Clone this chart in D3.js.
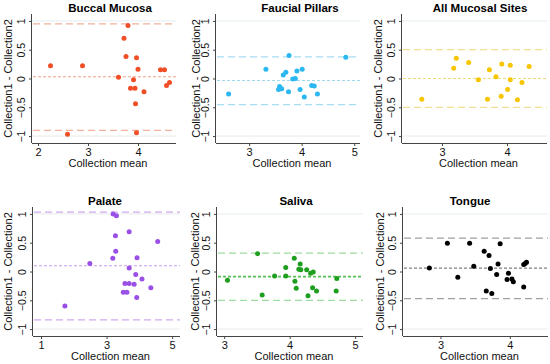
<!DOCTYPE html>
<html>
<head>
<meta charset="utf-8">
<script src="https://cdn.jsdelivr.net/npm/d3@7"></script>
<style>
  body { margin: 0; background: #fff; }
  svg { font-family: "Liberation Sans", Arial, sans-serif; }
</style>
</head>
<body>
<div id="chart"></div>
<script>
// Bland-Altman plots, one per site: x = collection mean, y = Collection1 - Collection2
var titles = ['Buccal Mucosa', 'Faucial Pillars', 'All Mucosal Sites', 'Palate', 'Saliva', 'Tongue'];

var buccalMean = [2.25, 2.89, 2.59, 3.80, 3.72, 3.76, 3.61, 3.97, 4.00, 3.91, 3.85, 3.94, 4.12, 3.95, 3.97, 4.45, 4.53, 4.57, 4.63];
var buccalDiff = [0.22, 0.22, -0.97, 0.92, 0.70, 0.38, 0.02, 0.36, 0.16, -0.02, -0.17, -0.17, -0.23, -0.44, -0.94, 0.15, 0.15, -0.12, -0.07];

var faucialMean = [2.61, 3.32, 3.76, 4.84, 3.65, 3.70, 3.91, 4.01, 3.83, 3.88, 3.58, 3.56, 3.62, 3.75, 3.97, 4.05, 4.19, 4.24, 4.30];
var faucialDiff = [-0.27, 0.16, 0.40, 0.37, 0.06, 0.11, 0.13, 0.16, -0.01, 0.00, -0.14, -0.19, -0.18, -0.23, -0.19, -0.32, -0.12, -0.13, -0.27];

var allMean = [2.69, 3.18, 3.22, 3.41, 3.56, 3.73, 3.70, 3.83, 3.92, 3.91, 4.01, 4.05, 4.05, 4.16, 4.23, 4.34];
var allDiff = [-0.36, 0.18, 0.35, 0.28, -0.02, 0.15, -0.36, 0.03, 0.25, -0.31, -0.19, 0.23, -0.02, -0.37, -0.07, 0.21];

var palateMean = [1.73, 2.49, 3.20, 3.30, 3.27, 3.28, 3.19, 3.69, 3.93, 4.56, 3.69, 3.89, 4.08, 3.56, 3.69, 3.84, 4.35, 3.51, 3.62, 3.92];
var palateDiff = [-0.60, 0.14, 1.00, 0.97, 0.62, 0.35, 0.23, 0.69, 0.24, 0.52, 0.06, -0.05, -0.13, -0.21, -0.21, -0.22, -0.28, -0.36, -0.36, -0.45];

var salivaMean = [3.05, 3.51, 3.58, 3.77, 3.94, 3.94, 4.07, 4.16, 4.14, 4.17, 4.08, 4.10, 4.26, 4.32, 4.36, 4.35, 4.28, 4.41, 4.72, 4.71];
var salivaDiff = [-0.15, 0.31, -0.41, -0.08, 0.07, -0.08, 0.23, 0.13, 0.04, 0.03, -0.17, -0.29, 0.03, -0.03, -0.01, -0.28, -0.42, -0.34, -0.12, -0.34];

var tongueMean = [2.84, 3.10, 3.25, 3.42, 3.48, 3.63, 3.70, 3.72, 3.66, 3.74, 3.83, 3.86, 3.81, 3.98, 3.96, 4.03, 4.05, 4.20, 4.20, 4.22, 4.24];
var tongueDiff = [0.06, 0.49, -0.10, 0.49, 0.09, 0.35, 0.28, 0.05, -0.34, -0.38, 0.13, 0.48, -0.05, -0.03, -0.14, -0.13, -0.18, -0.27, 0.12, 0.14, 0.16];

// mean difference, upper and lower limits of agreement
var meanDiffs = [0.03, -0.035, 0.0, 0.10, -0.09, 0.06];
var upperLimits = [0.95, 0.375, 0.50, 1.03, 0.32, 0.58];
var lowerLimits = [-0.90, -0.455, -0.50, -0.84, -0.50, -0.47];

var xTicks = [[2, 3, 4], [3, 4, 5], [3, 4], [1, 3, 5], [3, 4, 5], [3, 4]];
var yTicks = [-1, -0.5, 0, 0.5, 1];

var means = [buccalMean, faucialMean, allMean, palateMean, salivaMean, tongueMean];
var diffs = [buccalDiff, faucialDiff, allDiff, palateDiff, salivaDiff, tongueDiff];

var colors = ['#f04e26', '#2bb8f2', '#f7c600', '#9a4fe6', '#1e9e1e', '#000000'];
var limitColors = ['#f2b19c', '#a9ddf2', '#f2df94', '#cfaaf0', '#9fdc9f', '#a0a0a0'];
var meanColors = ['#f0a28c', '#9fd9f0', '#f0d978', '#c79cee', '#55c055', '#808080'];

// panel frames: axis left/right, top/bottom, x domain, title centre
var frames = [
  { l: 32, r: 176, t: 14, b: 143, x0: 1.88, x1: 4.76, tx: 110, ylab: 8 },
  { l: 216, r: 360, t: 14, b: 143, x0: 2.37, x1: 5.11, tx: 300, ylab: 196 },
  { l: 402, r: 547, t: 14, b: 143, x0: 2.385, x1: 4.615, tx: 480, ylab: 378 },
  { l: 33, r: 180, t: 207, b: 336, x0: 0.756, x1: 5.24, tx: 105, ylab: 8 },
  { l: 217, r: 363, t: 207, b: 336, x0: 2.89, x1: 5.12, tx: 296, ylab: 195 },
  { l: 403, r: 548, t: 207, b: 336, x0: 2.46, x1: 4.55, tx: 470, ylab: 380 }
];

var svg = d3.select('#chart').append('svg')
  .attr('width', 550)
  .attr('height', 364);

frames.forEach(function (f, i) {
  var x = d3.scaleLinear().domain([f.x0, f.x1]).range([f.l, f.r]);
  var y = d3.scaleLinear().domain([-1.12, 1.12]).range([f.b, f.t]);
  var g = svg.append('g');

  // faint grid at the outer ticks
  g.selectAll('line.grid').data([-1, 1]).enter().append('line')
    .attr('x1', f.l).attr('x2', f.r)
    .attr('y1', function (d) { return y(d); })
    .attr('y2', function (d) { return y(d); })
    .attr('stroke', '#e6eded')
    .attr('stroke-width', 1);

  // limits of agreement
  g.selectAll('line.loa').data([upperLimits[i], lowerLimits[i]]).enter().append('line')
    .attr('x1', f.l + 1).attr('x2', f.r)
    .attr('y1', function (d) { return y(d); })
    .attr('y2', function (d) { return y(d); })
    .attr('stroke', limitColors[i])
    .attr('stroke-width', 1.3)
    .attr('stroke-dasharray', '7,4');

  // mean difference
  g.append('line')
    .attr('x1', f.l + 1).attr('x2', f.r)
    .attr('y1', y(meanDiffs[i])).attr('y2', y(meanDiffs[i]))
    .attr('stroke', meanColors[i])
    .attr('stroke-width', i == 4 ? 1.8 : 1.2)
    .attr('stroke-dasharray', '3,2');

  // points
  g.selectAll('circle').data(means[i]).enter().append('circle')
    .attr('cx', function (d) { return x(d); })
    .attr('cy', function (d, j) { return y(diffs[i][j]); })
    .attr('r', 2.5)
    .attr('fill', colors[i]);

  // axes
  var xAxis = g.append('g')
    .attr('transform', 'translate(0,' + f.b + ')')
    .call(d3.axisBottom(x).tickValues(xTicks[i]).tickSize(3).tickSizeOuter(0).tickFormat(d3.format('d')));
  xAxis.select('.domain').attr('stroke', '#444').attr('d', 'M' + f.l + ',0.5H' + f.r);
  xAxis.selectAll('.tick line').attr('stroke', '#444');
  xAxis.selectAll('text').attr('font-size', 11).attr('fill', '#111').attr('dy', '0.85em').attr('y', 4);

  var yAxis = g.append('g')
    .attr('transform', 'translate(' + f.l + ',0)')
    .call(d3.axisLeft(y).tickValues(yTicks).tickSize(3).tickSizeOuter(0).tickFormat(function (d) { return d == 0 ? '0' : (d + '').replace('-', '\u2212'); }));
  yAxis.select('.domain').attr('stroke', '#444').attr('d', 'M-0.5,' + f.t + 'V' + f.b);
  yAxis.selectAll('.tick line').attr('stroke', '#444');
  yAxis.selectAll('text')
    .attr('font-size', 10.5)
    .attr('fill', '#111')
    .attr('x', null).attr('dy', null)
    .attr('text-anchor', 'middle')
    .attr('transform', 'translate(-7,0) rotate(-90)');

  // titles
  g.append('text')
    .attr('x', f.tx).attr('y', f.t - 2)
    .attr('text-anchor', 'middle')
    .attr('font-size', 11.5)
    .attr('font-weight', 'bold')
    .text(titles[i]);

  g.append('text')
    .attr('x', (f.l + f.r) / 2 + 4).attr('y', f.b + 24)
    .attr('text-anchor', 'middle')
    .attr('font-size', 11)
    .attr('fill', '#111')
    .text('Collection mean');

  g.append('text')
    .attr('transform', 'translate(' + (f.ylab + 4) + ',' + ((f.t + f.b) / 2) + ') rotate(-90)')
    .attr('text-anchor', 'middle')
    .attr('font-size', 11)
    .attr('fill', '#111')
    .text('Collection1 - Collection2');
});
</script>
</body>
</html>
